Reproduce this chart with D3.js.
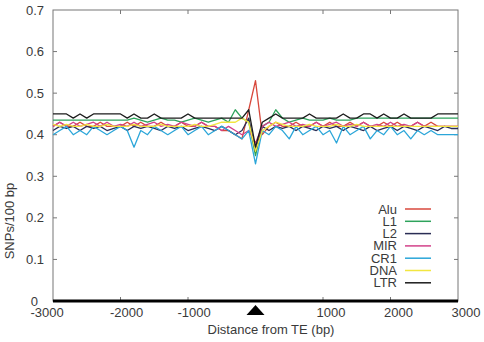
<!DOCTYPE html>
<html>
<head>
<meta charset="utf-8">
<script src="https://cdn.jsdelivr.net/npm/d3@7"></script>
<style>
  body { margin: 0; background: #fff; }
  text { font-family: "Liberation Sans", Arial, sans-serif; }
</style>
</head>
<body>
<div id="chart"></div>
<script>
// bins of 100 bp from -3000 to 3000
const distances = d3.range(-3000, 3001, 100);
const xTicks = [-3000, -2000, -1000, 0, 1000, 2000, 3000];
const yTicks = [0, 0.1, 0.2, 0.3, 0.4, 0.5, 0.6, 0.7];
const seriesNames = ["Alu", "L1", "L2", "MIR", "CR1", "DNA", "LTR"];
const seriesColors = ["#d8483c", "#2ea35c", "#2a2d55", "#d2418a", "#2ba6d9", "#f2e640", "#1c1c1c"];

const alu = [0.42,0.43,0.42,0.42,0.43,0.42,0.42,0.43,0.42,0.42,
  0.42,0.43,0.42,0.43,0.42,0.42,0.43,0.42,0.42,0.43,
  0.42,0.42,0.43,0.42,0.42,0.41,0.41,0.40,0.39,0.46,
  0.53,0.40,0.42,0.43,0.42,0.42,0.43,0.42,0.42,0.43,
  0.42,0.43,0.42,0.42,0.43,0.42,0.43,0.42,0.42,0.43,
  0.42,0.43,0.42,0.42,0.43,0.42,0.43,0.42,0.42,0.42,0.42];
const l1 = [0.435,0.435,0.435,0.435,0.435,0.435,0.435,0.435,0.435,0.435,
  0.435,0.435,0.44,0.435,0.43,0.435,0.44,0.435,0.435,0.43,
  0.435,0.44,0.435,0.43,0.435,0.44,0.43,0.46,0.44,0.43,
  0.35,0.42,0.43,0.46,0.44,0.43,0.435,0.44,0.435,0.435,
  0.435,0.44,0.435,0.435,0.435,0.44,0.44,0.44,0.44,0.44,
  0.44,0.44,0.44,0.44,0.44,0.44,0.44,0.44,0.44,0.44,0.44];
const l2 = [0.41,0.42,0.415,0.42,0.41,0.42,0.415,0.42,0.41,0.415,
  0.42,0.41,0.42,0.415,0.42,0.415,0.41,0.42,0.415,0.42,
  0.41,0.415,0.42,0.415,0.41,0.42,0.41,0.40,0.41,0.44,
  0.36,0.42,0.41,0.42,0.415,0.42,0.41,0.42,0.415,0.41,
  0.42,0.415,0.42,0.41,0.42,0.415,0.41,0.42,0.41,0.415,
  0.42,0.41,0.42,0.415,0.41,0.42,0.415,0.41,0.42,0.415,0.415];
const mir = [0.42,0.43,0.42,0.43,0.42,0.425,0.43,0.42,0.43,0.42,
  0.425,0.42,0.43,0.42,0.425,0.43,0.42,0.425,0.42,0.43,
  0.425,0.42,0.43,0.42,0.42,0.41,0.42,0.41,0.40,0.41,
  0.38,0.42,0.43,0.42,0.425,0.43,0.42,0.425,0.42,0.43,
  0.42,0.425,0.43,0.42,0.425,0.42,0.43,0.42,0.425,0.42,
  0.43,0.42,0.425,0.42,0.43,0.42,0.42,0.42,0.42,0.42,0.42];
const cr1 = [0.40,0.41,0.42,0.40,0.41,0.40,0.42,0.41,0.40,0.41,
  0.42,0.41,0.37,0.41,0.40,0.42,0.41,0.40,0.41,0.42,
  0.40,0.41,0.42,0.40,0.41,0.42,0.41,0.40,0.39,0.41,
  0.33,0.41,0.40,0.42,0.41,0.39,0.42,0.40,0.41,0.42,
  0.40,0.41,0.38,0.42,0.40,0.41,0.42,0.39,0.41,0.40,
  0.42,0.40,0.41,0.39,0.41,0.40,0.41,0.40,0.40,0.40,0.40];
const dna = [0.425,0.42,0.425,0.42,0.42,0.425,0.42,0.42,0.425,0.42,
  0.42,0.42,0.425,0.42,0.42,0.42,0.425,0.42,0.42,0.42,
  0.42,0.425,0.42,0.42,0.425,0.43,0.43,0.43,0.44,0.43,
  0.36,0.41,0.42,0.43,0.425,0.42,0.42,0.42,0.425,0.42,
  0.42,0.42,0.425,0.42,0.42,0.425,0.42,0.42,0.42,0.42,
  0.42,0.42,0.42,0.42,0.42,0.42,0.42,0.42,0.42,0.42,0.42];
const ltr = [0.45,0.45,0.45,0.44,0.45,0.44,0.45,0.45,0.45,0.45,
  0.45,0.44,0.45,0.44,0.44,0.45,0.44,0.44,0.44,0.44,
  0.45,0.44,0.44,0.44,0.44,0.44,0.44,0.44,0.44,0.46,
  0.37,0.43,0.44,0.45,0.44,0.44,0.44,0.44,0.45,0.44,
  0.44,0.44,0.44,0.45,0.44,0.44,0.45,0.45,0.44,0.45,
  0.44,0.44,0.45,0.44,0.44,0.44,0.44,0.45,0.45,0.45,0.45];

const seriesValues = [alu, l1, l2, mir, cr1, dna, ltr];

const W = 484, H = 342;
const margin = {top: 10, right: 26, bottom: 41, left: 53};
const width = W - margin.left - margin.right,
      height = H - margin.top - margin.bottom;

const svg = d3.select("#chart").append("svg")
  .attr("width", W).attr("height", H)
  .append("g")
  .attr("transform", `translate(${margin.left}, ${margin.top})`);

const x = d3.scaleLinear().domain([-3000, 3000]).range([0, width]);
const y = d3.scaleLinear().domain([0, 0.7]).range([height, 0]);

// frame
svg.append("rect")
  .attr("width", width).attr("height", height)
  .attr("fill", "none").attr("stroke", "#777").attr("stroke-width", 1);

// inward ticks on all four sides
const tickLen = 4;
svg.selectAll(".yt").data(yTicks.slice(1, -1)).join("g").each(function(d) {
  const g = d3.select(this);
  g.append("line").attr("x1", 0).attr("x2", tickLen).attr("y1", y(d)).attr("y2", y(d)).attr("stroke", "#777");
  g.append("line").attr("x1", width).attr("x2", width - tickLen).attr("y1", y(d)).attr("y2", y(d)).attr("stroke", "#777");
});
svg.selectAll(".xt").data(xTicks.slice(1, -1).filter(d => d !== 0)).join("g").each(function(d) {
  const g = d3.select(this);
  g.append("line").attr("x1", x(d)).attr("x2", x(d)).attr("y1", 0).attr("y2", tickLen).attr("stroke", "#777");
  g.append("line").attr("x1", x(d)).attr("x2", x(d)).attr("y1", height).attr("y2", height - tickLen).attr("stroke", "#777");
});

// y tick labels
svg.selectAll(".ylab").data(yTicks).join("text")
  .attr("x", d => d === 0 ? -15 : -9)
  .attr("y", d => y(d))
  .attr("dy", "0.35em")
  .attr("text-anchor", "end")
  .style("font-size", "13px")
  .attr("fill", "#3a3a3a")
  .text(d => d === 0 ? "0" : d3.format(".1f")(d));

// x tick labels (no label at 0, a triangle marks the TE)
svg.selectAll(".xlab").data(xTicks.filter(d => d !== 0)).join("text")
  .attr("x", d => x(d) + (d === -3000 ? -6 : d < 0 ? 6 : 8))
  .attr("y", height + 16)
  .attr("text-anchor", "middle")
  .style("font-size", "13px")
  .attr("fill", "#3a3a3a")
  .text(d => d);

// lines
const line = d3.line()
  .x((d, i) => x(distances[i]))
  .y(d => y(d));

seriesNames.forEach((name, k) => {
  svg.append("path")
    .datum(seriesValues[k])
    .attr("fill", "none")
    .attr("stroke", seriesColors[k])
    .attr("stroke-width", 1.3)
    .attr("stroke-linejoin", "round")
    .attr("d", line);
});

// thick bottom axis
svg.append("line")
  .attr("x1", 0).attr("x2", width)
  .attr("y1", height).attr("y2", height)
  .attr("stroke", "#000").attr("stroke-width", 3);

// TE marker triangle
svg.append("path")
  .attr("d", `M${x(0)},${height + 4} L${x(0) - 9},${height + 14} L${x(0) + 9},${height + 14} Z`)
  .attr("fill", "#000");

// axis titles
svg.append("text")
  .attr("x", 218).attr("y", height + 33)
  .attr("text-anchor", "middle")
  .style("font-size", "13px")
  .attr("fill", "#3a3a3a")
  .text("Distance from TE (bp)");

svg.append("text")
  .attr("transform", `translate(${-39}, ${height - 80}) rotate(-90)`)
  .attr("text-anchor", "middle")
  .style("font-size", "13px")
  .attr("fill", "#3a3a3a")
  .text("SNPs/100 bp");

// legend
const legend = svg.append("g").attr("transform", `translate(${397 - margin.left}, ${209 - margin.top})`);
seriesNames.forEach((name, k) => {
  const row = legend.append("g").attr("transform", `translate(0, ${k * 12.3})`);
  row.append("text")
    .attr("x", 0).attr("dy", "0.35em")
    .attr("text-anchor", "end")
    .style("font-size", "13px")
    .attr("fill", "#3a3a3a")
    .text(name);
  row.append("line")
    .attr("x1", 8).attr("x2", 34)
    .attr("stroke", seriesColors[k]).attr("stroke-width", 1.5);
});
</script>
</body>
</html>
